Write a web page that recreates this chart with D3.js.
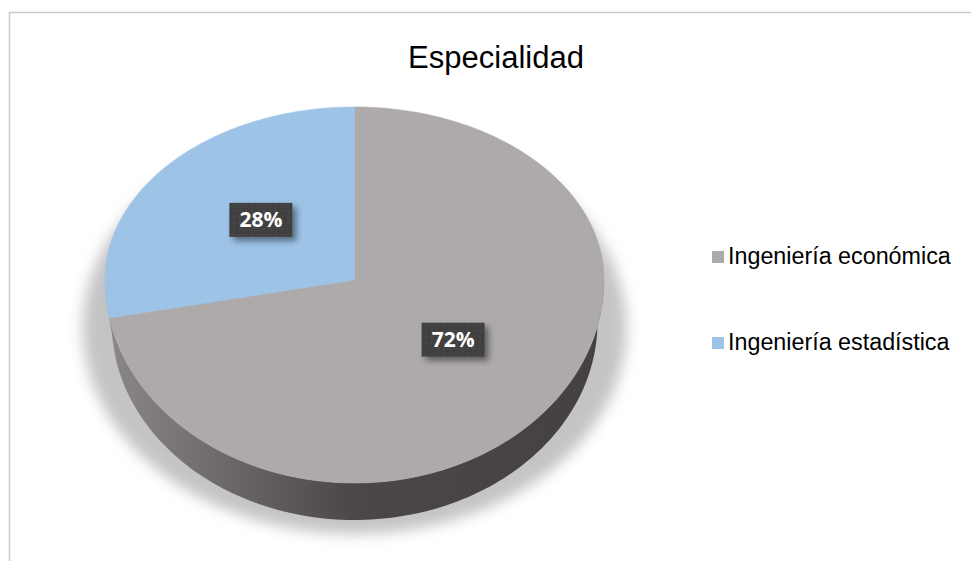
<!DOCTYPE html>
<html>
<head>
<meta charset="utf-8">
<script src="https://cdn.jsdelivr.net/npm/d3@7"></script>
<style>
  html, body { margin: 0; padding: 0; background: #fff; }
  svg { display: block; }
</style>
</head>
<body>
<svg id="chart" width="971" height="561"></svg>
<script>
// ---- data ----
const title = "Especialidad";
const categories = ["Ingeniería económica", "Ingeniería estadística"];
const values = [72, 28];
const labels = ["72%", "28%"];
const colors = ["#AEAAAA", "#9DC3E6"];
const sideColors = [["#8c8888", "#4b4747", "#454141"], ["#7d9bb8", "#5f7d99", "#567390"]];

const svg = d3.select("#chart");
const defs = svg.append("defs");

// chart border
svg.append("rect").attr("x", 9.5).attr("y", 12.5).attr("width", 1000).attr("height", 600)
  .attr("fill", "#fff").attr("stroke", "#c9c9c9").attr("stroke-width", 1.5);

// title
svg.append("text").attr("x", 496).attr("y", 68).attr("text-anchor", "middle")
  .attr("font-family", "Liberation Sans, Arial, sans-serif").attr("font-size", 31)
  .attr("fill", "#000").text(title);

// geometry of pseudo-3D pie
const cx = 354.5;
const geo = {
  top: { cy: 280, rx: 249.5, ryBack: 173, ryFront: 203 },
  bot: { cy: 322, rx: 243, ryBack: 169, ryFront: 198 }
};
function pt(a, g) {
  const c = Math.cos(a);
  return [cx + g.rx * Math.sin(a), g.cy - (c >= 0 ? g.ryBack : g.ryFront) * c];
}

// shadow
const blur = defs.append("filter").attr("id", "blur").attr("x", "-20%").attr("y", "-20%")
  .attr("width", "140%").attr("height", "140%");
blur.append("feGaussianBlur").attr("stdDeviation", 7);
svg.append("ellipse").attr("cx", cx).attr("cy", 328).attr("rx", 272).attr("ry", 206)
  .attr("fill", "#c4c4c4").attr("filter", "url(#blur)");

const pie = d3.pie().sort(null).value(d => d)(values);

// side walls (visible front half)
const line = d3.line();
pie.forEach((p, i) => {
  const lo = Math.max(p.startAngle, Math.PI / 2);
  const hi = Math.min(p.endAngle, 3 * Math.PI / 2);
  if (hi <= lo) return;
  const gid = "side" + i;
  const grad = defs.append("linearGradient").attr("id", gid).attr("gradientUnits", "userSpaceOnUse")
    .attr("x1", cx - geo.top.rx).attr("x2", cx + geo.top.rx).attr("y1", 0).attr("y2", 0);
  grad.append("stop").attr("offset", "0%").attr("stop-color", sideColors[i][0]);
  grad.append("stop").attr("offset", "50%").attr("stop-color", sideColors[i][1]);
  grad.append("stop").attr("offset", "100%").attr("stop-color", sideColors[i][2]);
  const n = 120, topPts = [], botPts = [];
  for (let k = 0; k <= n; k++) {
    const a = lo + (hi - lo) * k / n;
    topPts.push(pt(a, geo.top));
    botPts.push(pt(a, geo.bot));
  }
  svg.append("path").attr("d", line(topPts.concat(botPts.reverse())) + "Z")
    .attr("fill", `url(#${gid})`);
});

// top faces
pie.forEach((p, i) => {
  const n = 160, pts = [[cx, geo.top.cy]];
  for (let k = 0; k <= n; k++) {
    const a = p.startAngle + (p.endAngle - p.startAngle) * k / n;
    pts.push(pt(a, geo.top));
  }
  svg.append("path").attr("d", line(pts) + "Z").attr("fill", colors[i])
    .attr("stroke", colors[i]).attr("stroke-width", 0.6);
});

// data labels
const pat = defs.append("pattern").attr("id", "dots").attr("patternUnits", "userSpaceOnUse")
  .attr("width", 6).attr("height", 6);
pat.append("rect").attr("width", 6).attr("height", 6).attr("fill", "#404040");
pat.append("circle").attr("cx", 3).attr("cy", 3).attr("r", 1).attr("fill", "#4e4e4e");
const ds = defs.append("filter").attr("id", "ds").attr("x", "-30%").attr("y", "-30%")
  .attr("width", "170%").attr("height", "170%");
ds.append("feDropShadow").attr("dx", 4).attr("dy", 4).attr("stdDeviation", 3)
  .attr("flood-color", "#000").attr("flood-opacity", 0.45);

const lcx = cx + 2.5, lcy = geo.top.cy - 5;
pie.forEach((p, i) => {
  const mid = (p.startAngle + p.endAngle) / 2;
  const [ex, ey] = pt(mid, geo.top);
  const lx = lcx + (ex - cx) * 0.5, ly = lcy + (ey - geo.top.cy) * 0.5;
  const g = svg.append("g").attr("transform", `translate(${lx},${ly})`);
  g.append("rect").attr("x", -31.5).attr("y", -17).attr("width", 63).attr("height", 34)
    .attr("fill", "url(#dots)").attr("filter", "url(#ds)");
  g.append("text").attr("x", 0).attr("y", 7.5).attr("text-anchor", "middle")
    .attr("font-family", "Open Sans, sans-serif").attr("font-weight", "bold")
    .attr("font-size", 21).attr("fill", "#fff").text(labels[i]);
});

// legend
const leg = svg.append("g");
categories.forEach((c, i) => {
  const y = 264 + i * 86;
  leg.append("rect").attr("x", 712).attr("y", y - 13).attr("width", 12).attr("height", 12)
    .attr("fill", colors[i]);
  leg.append("text").attr("x", 728).attr("y", y)
    .attr("font-family", "Liberation Sans, Arial, sans-serif").attr("font-size", 23.3)
    .attr("fill", "#000").text(c);
});
</script>
</body>
</html>
